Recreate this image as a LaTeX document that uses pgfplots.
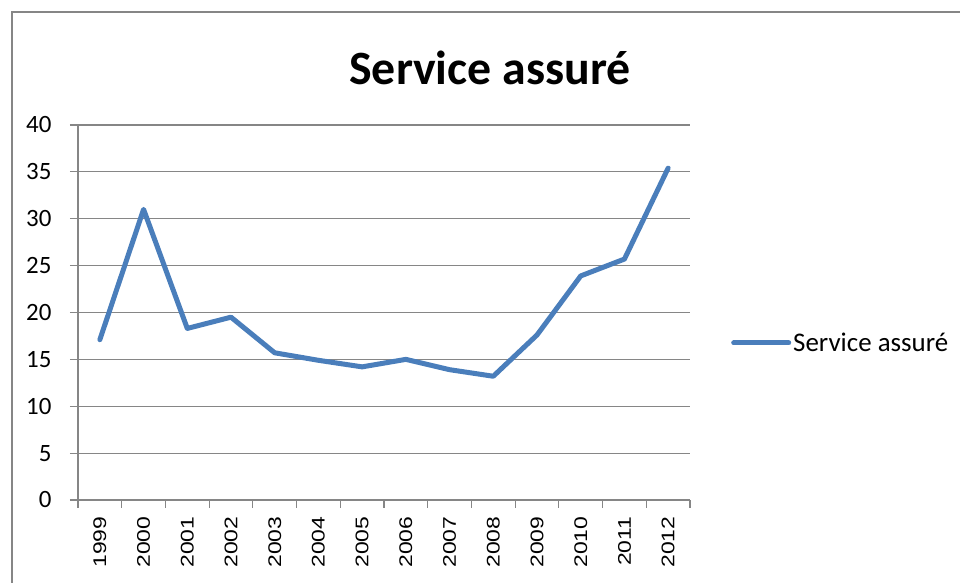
\documentclass[border=0pt]{standalone}
\usepackage{pgfplots}
\pgfplotsset{compat=1.18}
\usepackage{fontspec}
\setmainfont{Carlito}
\newfontfamily\xlab{Liberation Sans}
\definecolor{excelblue}{RGB}{74,126,187}
\definecolor{gridgray}{RGB}{134,134,134}
\begin{document}
\begin{tikzpicture}[x=1bp,y=1bp]
\useasboundingbox (0,0) rectangle (960,583);
\draw[gridgray, line width=1.2bp] (12,0) -- (12,571) -- (960,571);
\node[font=\fontsize{48}{56}\selectfont\bfseries] at (490,515) {Service assuré};
\begin{axis}[
  at={(78bp,83bp)}, anchor=south west,
  width=612bp, height=375bp, scale only axis,
  xmin=-0.5, xmax=13.5, ymin=0, ymax=40,
  axis line style={gridgray, line width=1.2bp},
  axis x line*=bottom, axis y line*=left,
  ytick={0,5,...,40},
  ymajorgrids, major grid style={gridgray, line width=1.2bp},
  xtick={0,...,13},
  xticklabel={\scalebox{1}[0.8]{\pgfmathparse{int(1999+\tick)}\pgfmathresult}},
  minor xtick={-0.5,0.5,...,13.5},
  major x tick style={draw=none},
  minor tick style={gridgray, line width=1.2bp},
  major tick style={gridgray, line width=1.2bp},
  tick align=outside,
  major tick length=8bp, minor tick length=8bp,
  xticklabel shift=5bp,
  x tick label style={rotate=90, anchor=east, font=\xlab\fontsize{23}{26}\selectfont},
  y tick label style={font=\fontsize{25}{28}\selectfont, xshift=-15bp},
  /pgf/number format/assume math mode=true,
  clip=false,
  legend style={at={(653bp,157bp)}, anchor=west, draw=none, fill=none,
    font=\fontsize{27}{30}\selectfont, inner sep=0pt},
  legend image code/.code={\draw[#1, line width=5bp] (0bp,0bp) -- (55bp,0bp);},
]
\addplot[excelblue, line width=5bp, line join=round, line cap=round] coordinates {
(0,17.1) (1,31.0) (2,18.3) (3,19.5) (4,15.7) (5,14.9) (6,14.2) (7,15.0)
(8,13.9) (9,13.2) (10,17.6) (11,23.9) (12,25.7) (13,35.4)
};
\addlegendentry{Service assuré}
\end{axis}
\end{tikzpicture}
\end{document}
